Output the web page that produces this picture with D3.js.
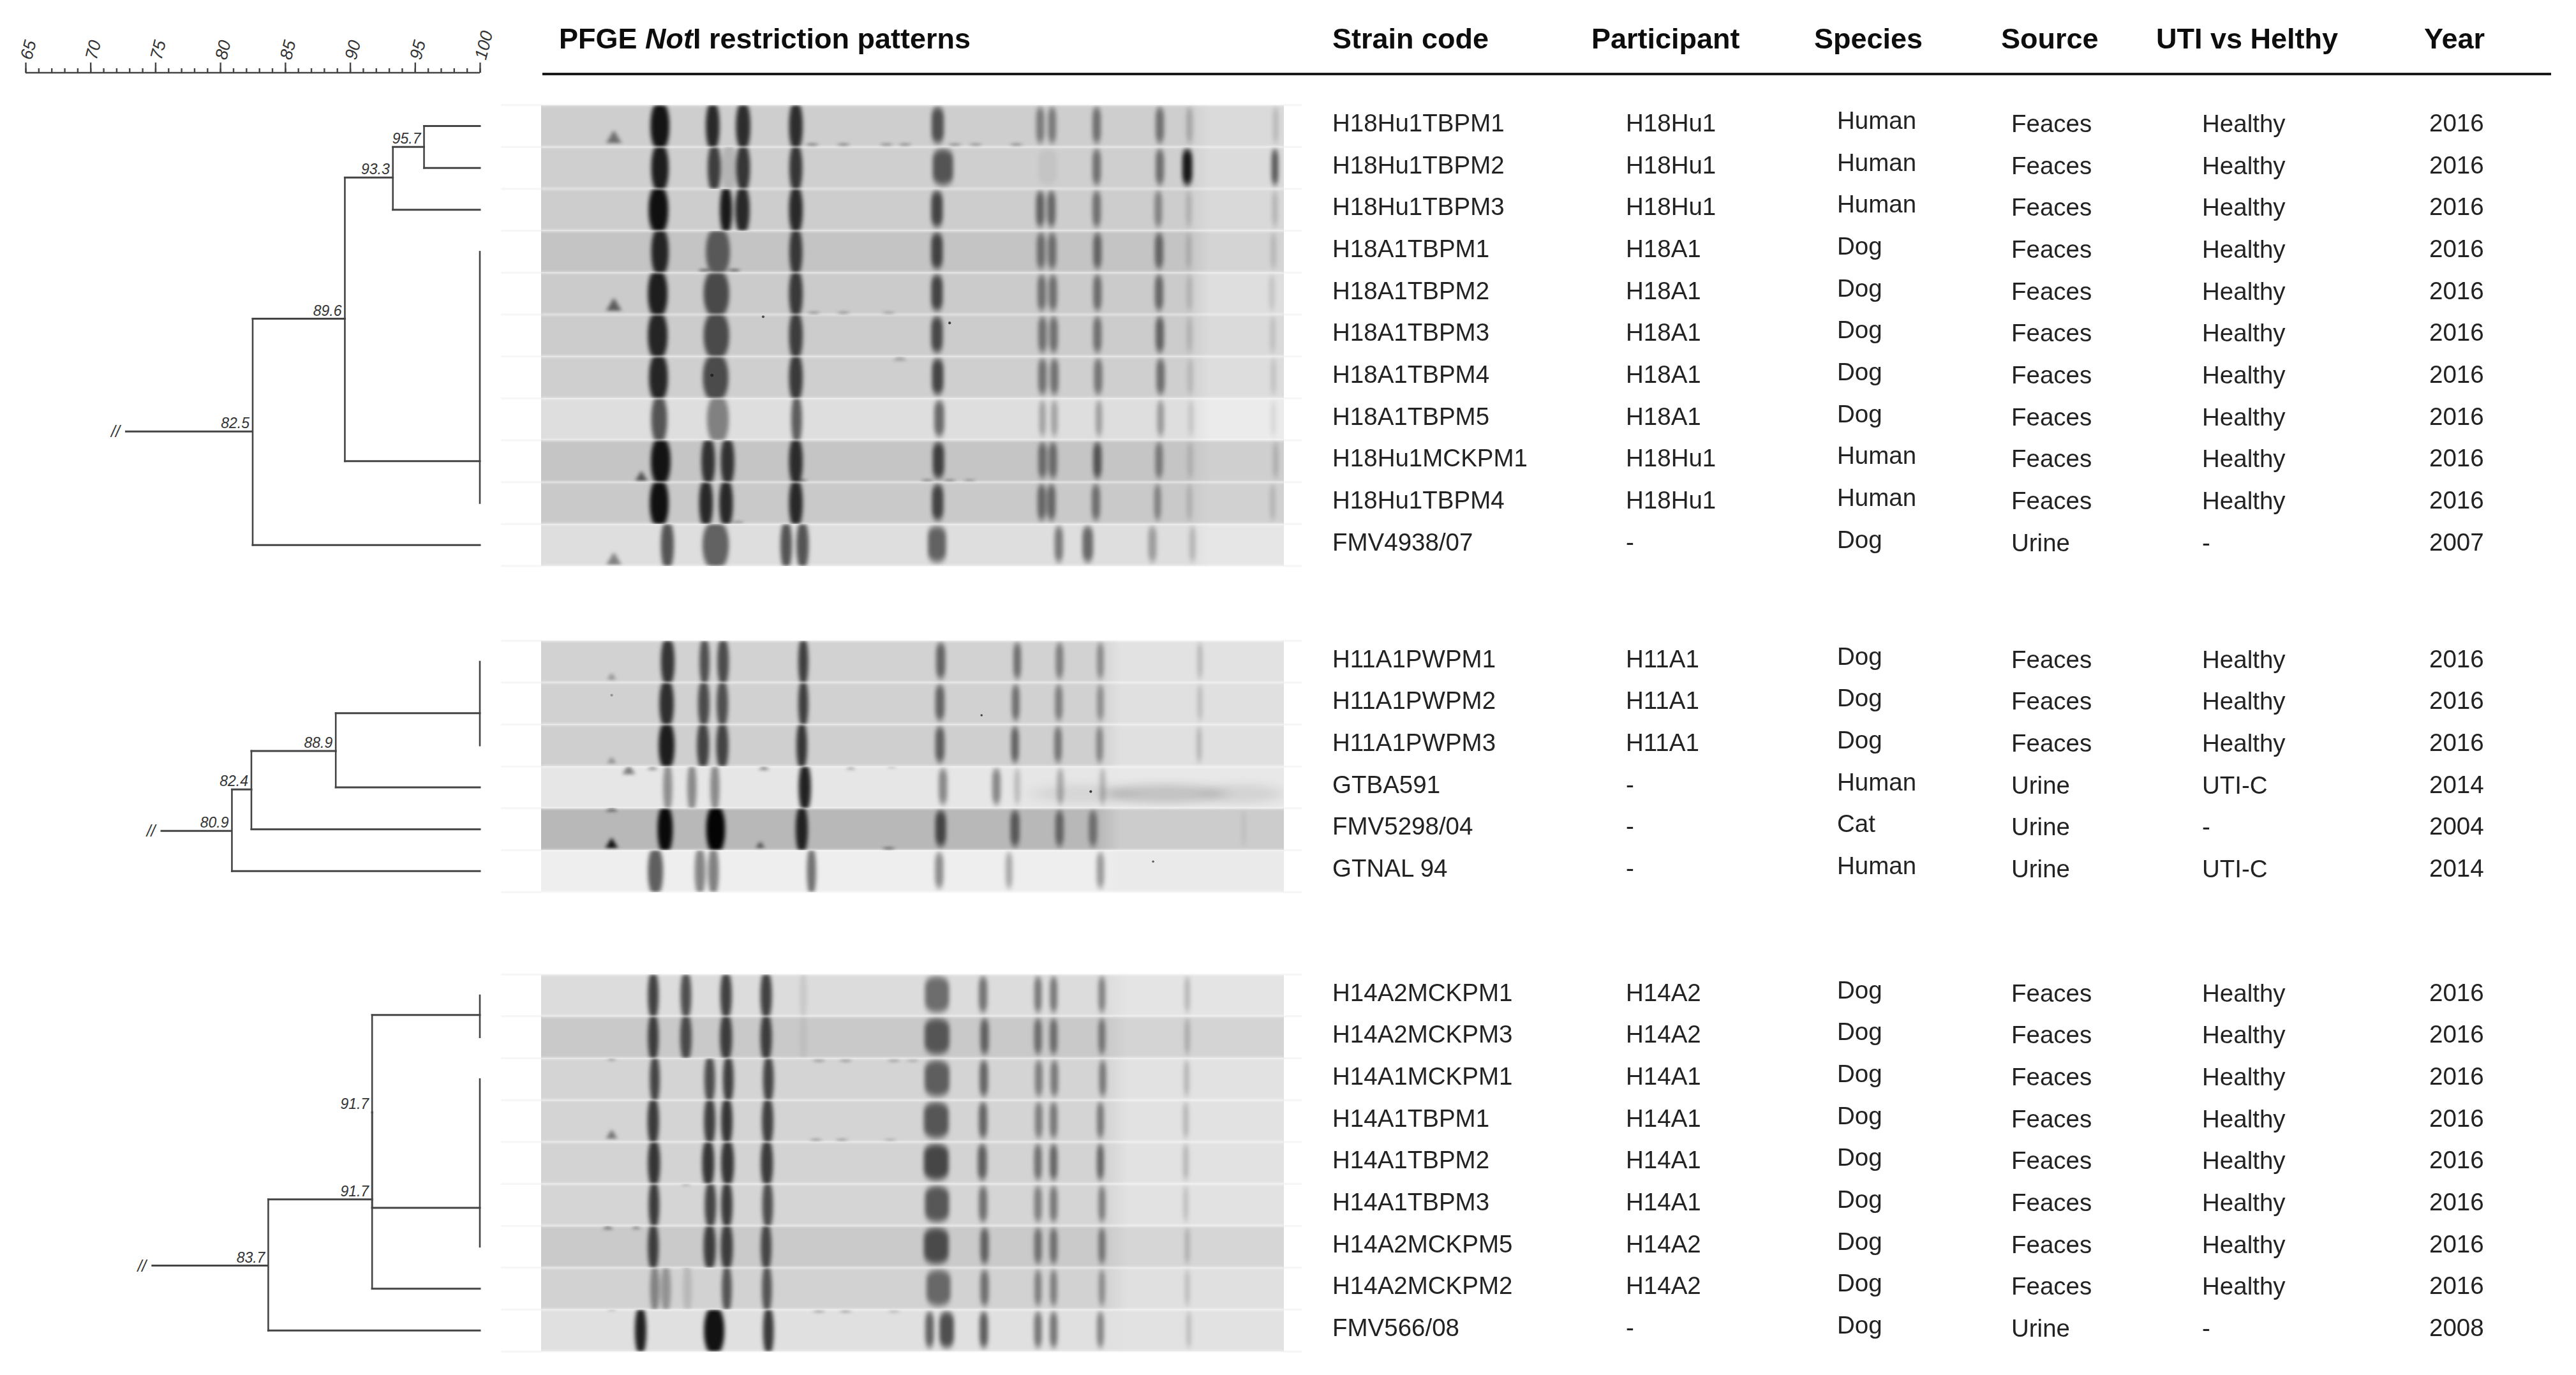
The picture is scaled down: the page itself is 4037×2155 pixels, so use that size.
<!DOCTYPE html>
<html><head><meta charset="utf-8">
<script src="https://cdn.jsdelivr.net/npm/d3@7"></script>
<style>html,body{margin:0;padding:0;background:#fff}svg{display:block}</style>
</head><body><div id="chart"></div>
<script>
// ---- table text ----
const strainsA=["H18Hu1TBPM1","H18Hu1TBPM2","H18Hu1TBPM3","H18A1TBPM1","H18A1TBPM2","H18A1TBPM3","H18A1TBPM4","H18A1TBPM5","H18Hu1MCKPM1","H18Hu1TBPM4","FMV4938/07"];
const participantsA=["H18Hu1","H18Hu1","H18Hu1","H18A1","H18A1","H18A1","H18A1","H18A1","H18Hu1","H18Hu1","-"];
const speciesA=["Human","Human","Human","Dog","Dog","Dog","Dog","Dog","Human","Human","Dog"];
const sourcesA=["Feaces","Feaces","Feaces","Feaces","Feaces","Feaces","Feaces","Feaces","Feaces","Feaces","Urine"];
const statusA=["Healthy","Healthy","Healthy","Healthy","Healthy","Healthy","Healthy","Healthy","Healthy","Healthy","-"];
const yearsA=[2016,2016,2016,2016,2016,2016,2016,2016,2016,2016,2007];

const strainsB=["H11A1PWPM1","H11A1PWPM2","H11A1PWPM3","GTBA591","FMV5298/04","GTNAL 94"];
const participantsB=["H11A1","H11A1","H11A1","-","-","-"];
const speciesB=["Dog","Dog","Dog","Human","Cat","Human"];
const sourcesB=["Feaces","Feaces","Feaces","Urine","Urine","Urine"];
const statusB=["Healthy","Healthy","Healthy","UTI-C","-","UTI-C"];
const yearsB=[2016,2016,2016,2014,2004,2014];

const strainsC=["H14A2MCKPM1","H14A2MCKPM3","H14A1MCKPM1","H14A1TBPM1","H14A1TBPM2","H14A1TBPM3","H14A2MCKPM5","H14A2MCKPM2","FMV566/08"];
const participantsC=["H14A2","H14A2","H14A1","H14A1","H14A1","H14A1","H14A2","H14A2","-"];
const speciesC=["Dog","Dog","Dog","Dog","Dog","Dog","Dog","Dog","Dog"];
const sourcesC=["Feaces","Feaces","Feaces","Feaces","Feaces","Feaces","Feaces","Feaces","Urine"];
const statusC=["Healthy","Healthy","Healthy","Healthy","Healthy","Healthy","Healthy","Healthy","-"];
const yearsC=[2016,2016,2016,2016,2016,2016,2016,2016,2008];

const headers=["Strain code","Participant","Species","Source","UTI vs Helthy","Year"];
const majorTicks=[65,70,75,80,85,90,95,100];
const minorTicks=d3.range(65,101);

// ---- dendrograms: similarity (%) and row position ----
const treeA={sim:82.5,row:7.29,label:"82.5",start:72.67,children:[
  {sim:89.6,row:4.6,label:"89.6",children:[
    {sim:93.3,row:1.23,label:"93.3",children:[
      {sim:95.7,row:0.5,label:"95.7",children:[{sim:100,row:0},{sim:100,row:1}]},
      {sim:100,row:2}]},
    {sim:100,row:8,span:[3,9]}]},
  {sim:100,row:10}]};
const treeB={sim:80.9,row:4.04,label:"80.9",start:75.4,children:[
  {sim:82.4,row:3.05,label:"82.4",children:[
    {sim:88.9,row:2.13,label:"88.9",children:[
      {sim:100,row:1.23,span:[0,2]},
      {sim:100,row:3}]},
    {sim:100,row:4}]},
  {sim:100,row:5}]};
const treeC={sim:83.7,row:6.45,label:"83.7",start:74.7,children:[
  {sim:91.7,row:4.87,label:"91.7",children:[
    {sim:91.7,row:2.79,label:"91.7",children:[
      {sim:100,row:0.47,span:[0,1]},
      {sim:100,row:5.07,span:[2,6]}]},
    {sim:100,row:7}]},
  {sim:100,row:8}]};

// ---- gel lanes: band = [position %, width %, density] ----
const gelA=[
 [[16.0,2.2,.9],[23.1,1.5,.8],[27.2,1.6,.78],[34.3,1.5,.78],[53.4,1.3,.68],[67.2,.75,.45],[68.8,.75,.45],[74.8,.8,.5],[83.3,.8,.5],[87.3,.55,.22],[98.9,.45,.16]],
 [[16.0,2.0,.86],[23.3,1.4,.7],[25.3,1.7,.13],[27.2,1.5,.74],[34.3,1.4,.74],[54.1,2.4,.66],[68.2,2.2,.06],[74.8,.8,.5],[83.3,.8,.52],[87.0,1.0,.98],[98.8,.6,.65]],
 [[15.8,2.3,.92],[24.9,1.3,.88],[27.1,1.6,.8],[34.3,1.5,.8],[53.3,1.2,.74],[67.2,.8,.58],[68.7,.8,.55],[74.8,.8,.5],[83.1,.7,.4],[87.2,.45,.16],[98.8,.45,.18]],
 [[16.0,2.0,.82],[23.8,2.9,.55],[34.3,1.4,.72],[53.3,1.2,.74],[67.3,.8,.5],[68.8,.8,.5],[74.9,.8,.55],[83.2,.8,.55],[87.2,.45,.15],[98.6,.45,.15]],
 [[15.7,2.3,.85],[23.6,3.1,.64],[34.3,1.5,.72],[53.3,1.2,.74],[67.4,.8,.5],[68.9,.8,.5],[74.9,.8,.52],[83.2,.8,.55],[87.3,.45,.15],[98.4,.45,.13]],
 [[15.7,2.3,.82],[23.6,3.1,.64],[34.3,1.5,.7],[53.3,1.2,.72],[67.5,.8,.5],[69.0,.8,.5],[74.9,.8,.5],[83.3,.8,.58],[87.3,.45,.15],[98.5,.45,.13]],
 [[15.8,2.2,.82],[23.5,3.1,.64],[34.3,1.5,.72],[53.4,1.2,.74],[67.5,.8,.5],[69.1,.8,.5],[75.0,.8,.48],[83.4,.8,.52],[87.4,.45,.14],[98.6,.45,.13]],
 [[15.9,1.8,.62],[23.8,2.6,.42],[34.4,1.1,.58],[53.6,1.0,.58],[67.5,.55,.3],[69.1,.55,.3],[75.1,.55,.32],[83.4,.6,.34],[87.5,.4,.13],[98.6,.35,.09]],
 [[16.1,2.3,.9],[22.5,1.5,.75],[25.1,1.5,.75],[34.3,1.5,.78],[53.5,1.2,.76],[67.5,.8,.52],[68.9,.8,.52],[74.9,.8,.65],[83.2,.7,.44],[87.4,.45,.14],[98.9,.5,.16]],
 [[15.9,2.2,.92],[22.2,1.5,.8],[24.9,1.5,.8],[34.3,1.5,.8],[53.4,1.2,.74],[67.4,.8,.55],[68.7,.8,.55],[74.7,.8,.5],[83.0,.6,.4],[87.3,.45,.15],[98.5,.45,.15]],
 [[17.0,1.4,.62],[23.5,3.2,.56],[33.0,1.2,.62],[35.2,1.3,.62],[53.3,2.1,.62],[69.7,.8,.5],[73.6,1.1,.58],[82.3,.8,.32],[87.7,.55,.2]]
];
const gelB=[
 [[17.05,1.5,.75],[22.0,1.0,.62],[24.5,1.2,.64],[35.3,1.0,.7],[53.8,.9,.58],[64.1,.7,.52],[69.8,.7,.44],[75.3,.6,.38],[88.7,.4,.2]],
 [[16.9,1.6,.78],[21.9,1.2,.64],[24.4,1.2,.62],[35.3,1.0,.7],[53.7,.9,.58],[63.9,.7,.52],[69.7,.7,.44],[75.3,.6,.36],[88.7,.4,.17]],
 [[16.9,1.8,.86],[21.8,1.3,.68],[24.4,1.3,.68],[35.1,1.1,.74],[53.7,.9,.6],[63.8,.7,.58],[69.6,.7,.48],[75.2,.6,.4],[88.6,.4,.2]],
 [[17.05,.9,.38],[20.3,.9,.4],[23.4,.9,.4],[35.5,1.3,.85],[54.1,.8,.45],[61.3,.8,.45],[64.1,.5,.2],[69.9,.6,.28],[75.6,.5,.22]],
 [[16.7,1.7,.95],[23.5,2.2,.98],[35.1,1.3,.82],[53.8,1.1,.7],[63.8,.9,.58],[69.8,.8,.52],[74.3,.8,.45],[94.6,.3,.07]],
 [[15.4,1.7,.6],[21.4,1.1,.44],[23.2,1.1,.46],[36.4,.9,.52],[53.6,.8,.45],[63.0,.6,.32],[75.3,.7,.38]]
];
const gelC=[
 [[15.1,1.1,.7],[19.5,1.1,.64],[24.9,1.2,.7],[30.3,1.2,.7],[35.3,.6,.09],[53.3,2.9,.56],[59.5,.8,.52],[66.9,.65,.5],[69.0,.65,.5],[75.5,.6,.45],[87.0,.4,.22]],
 [[15.1,1.1,.7],[19.5,1.2,.64],[24.9,1.3,.7],[30.3,1.2,.7],[35.3,.6,.06],[53.3,3.0,.64],[59.7,.8,.58],[66.9,.7,.52],[69.0,.7,.52],[75.5,.6,.48],[87.0,.4,.22]],
 [[15.3,1.0,.68],[22.7,1.1,.64],[25.2,1.1,.7],[30.6,1.1,.68],[53.3,3.0,.62],[59.6,.8,.58],[67.0,.7,.45],[69.1,.7,.48],[75.6,.6,.48],[86.9,.4,.22]],
 [[15.1,1.2,.72],[22.7,1.2,.7],[25.0,1.2,.75],[30.5,1.2,.7],[53.2,3.0,.66],[59.5,.8,.58],[67.0,.7,.45],[69.0,.7,.48],[75.3,.6,.48],[86.8,.4,.22]],
 [[15.2,1.3,.75],[22.5,1.3,.75],[25.1,1.4,.75],[30.4,1.3,.72],[53.2,3.0,.74],[59.4,.9,.6],[66.9,.7,.52],[69.0,.7,.58],[75.3,.6,.58],[86.8,.4,.22]],
 [[15.2,1.1,.72],[22.8,1.2,.68],[25.0,1.2,.72],[30.5,1.1,.64],[53.3,2.9,.66],[59.5,.8,.52],[66.9,.7,.45],[69.0,.7,.48],[75.5,.6,.45],[86.8,.35,.17]],
 [[15.1,1.1,.7],[22.7,1.3,.7],[25.0,1.3,.7],[30.3,1.1,.66],[53.2,3.0,.7],[59.7,.8,.58],[66.9,.7,.5],[69.0,.7,.5],[75.5,.6,.48],[87.0,.35,.2]],
 [[15.3,.9,.38],[16.8,1.0,.3],[19.7,.9,.12],[25.0,1.0,.6],[30.4,1.0,.6],[53.5,2.9,.56],[59.7,.8,.52],[66.9,.6,.45],[69.0,.6,.45],[75.5,.5,.38],[87.0,.35,.17]],
 [[13.4,1.2,.85],[23.3,2.4,.92],[30.6,1.1,.74],[52.3,.8,.62],[54.6,1.6,.72],[59.6,.8,.64],[66.9,.7,.52],[69.0,.7,.52],[75.3,.6,.45],[87.2,.35,.18]]
];
// lane grey level: before and after the step in background
const toneA=[[206,218],[207,219],[205,217],[196,212],[203,222],[204,218],[207,221],[222,235],[197,207],[201,209],[222,230]];
const toneB=[[210,226],[209,224],[207,224],[230,232],[184,204],[238,234]];
const toneC=[[220,228],[201,212],[212,226],[212,226],[211,226],[213,226],[202,214],[210,224],[224,226]];
// where the background steps, in gel position %
const stepA=87, stepB=75, stepC=76;
// streaks across a lane: [lane, from %, to %, density]
const smearsB=[[3,66,80,.07],[3,76,92,.16],[3,89,100,.09]];
// spots on gels: [lane, position %, lane fraction, size, density]
const spotsA=[[0,9.8,.88,1.1,.36],[4,9.8,.88,1.1,.42],[10,9.8,.95,1.1,.32],[8,13.5,.97,.9,.45],[1,25.3,.02,.7,.18],[6,48.3,.1,.9,.16],
 [0,36.5,.95,.5,.3],[0,40.7,.95,.5,.28],[0,46.5,.95,.5,.25],[0,49,.95,.5,.25],[0,55.7,.95,.5,.25],[0,58.5,.95,.5,.22],[0,64,.95,.5,.25],
 [4,36.7,.97,.5,.25],[4,40.7,.97,.5,.25],[4,46.8,.97,.5,.2],[8,35,.97,.5,.35],[8,52,.97,.5,.28],[8,55,.97,.5,.28],[8,57.7,.97,.5,.22],
 [3,22,.95,.5,.4],[3,26,.95,.5,.4],[5,29.9,.05,.3,.7],[5,55,.2,.3,.7],[6,23,.45,.35,.55],[9,26.5,.97,.5,.25]];
const spotsB=[[0,9.5,.95,.6,.25],[1,9.5,.3,.3,.3],[2,9.5,.95,.6,.25],[3,11.8,.18,.9,.35],[3,15,.1,.7,.25],[3,30,.1,.7,.3],[3,41.7,.1,.6,.2],[3,47.2,.05,.6,.2],
 [4,9.5,.08,.8,.35],[4,9.5,.94,.9,.7],[4,29.5,.97,.6,.45],[4,46.8,.97,.5,.4],[1,59.3,.78,.25,.7],[3,74,.6,.3,.75],[5,82.4,.27,.25,.6]];
const spotsC=[[2,9.5,.07,.6,.25],[3,9.5,.92,.8,.35],[6,9,.1,.7,.3],[6,12.8,.1,.6,.25],[7,19.5,.02,.6,.25],[5,19.5,.05,.6,.25],
 [2,37.4,.05,.5,.22],[2,41,.05,.5,.22],[2,47.5,.05,.5,.2],[2,50,.05,.5,.16],[3,37,.96,.5,.22],[3,40.5,.96,.5,.22],[3,47,.96,.5,.16],[8,9.5,.04,.6,.25],[8,37.4,.03,.5,.22],[8,41,.03,.5,.22],[8,47.5,.03,.5,.16]];

// ---- layout ----
const W=4037,H=2155;
const svg=d3.select("#chart").append("svg").attr("width",W).attr("height",H).attr("viewBox",[0,0,W,H]);
const FONT="'Liberation Sans',Arial,sans-serif";
const defs=svg.append("defs");
defs.append("filter").attr("id","blurBand").attr("x","-100%").attr("y","-20%").attr("width","300%").attr("height","140%")
  .append("feGaussianBlur").attr("stdDeviation","3.2 5.5");
defs.append("filter").attr("id","blurSpot").attr("x","-100%").attr("y","-100%").attr("width","300%").attr("height","300%")
  .append("feGaussianBlur").attr("stdDeviation","3.2 2.4");
defs.append("filter").attr("id","blurSoft").attr("x","-50%").attr("y","-100%").attr("width","200%").attr("height","300%")
  .append("feGaussianBlur").attr("stdDeviation","14 7");
defs.append("filter").attr("id","blurLine").attr("x","-5%").attr("y","-300%").attr("width","110%").attr("height","700%")
  .append("feGaussianBlur").attr("stdDeviation","1.6");
defs.append("filter").attr("id","blurText").append("feGaussianBlur").attr("stdDeviation","0.6");

const x=d3.scaleLinear().domain([65,100]).range([40,752]);
const gx=d3.scaleLinear().domain([0,100]).range([848,2012]);
const bandW=d3.scaleLinear().domain([0,100]).range([0,1164]);
const PITCH=65.67;
const panels=[
 {key:"A",top:197.5,strains:strainsA,part:participantsA,spec:speciesA,src:sourcesA,stat:statusA,year:yearsA,tree:treeA,gel:gelA,tone:toneA,step:stepA,spots:spotsA,smears:[]},
 {key:"B",top:1037,strains:strainsB,part:participantsB,spec:speciesB,src:sourcesB,stat:statusB,year:yearsB,tree:treeB,gel:gelB,tone:toneB,step:stepB,spots:spotsB,smears:smearsB},
 {key:"C",top:1560,strains:strainsC,part:participantsC,spec:speciesC,src:sourcesC,stat:statusC,year:yearsC,tree:treeC,gel:gelC,tone:toneC,step:stepC,spots:spotsC,smears:[]}
];
panels.forEach(p=>{p.y=d3.scaleLinear().domain([0,p.strains.length-1]).range([p.top,p.top+PITCH*(p.strains.length-1)]);});

// ---- similarity axis ----
const axisG=svg.append("g").attr("transform","translate(0,114)").attr("font-family",FONT);
const minor=d3.axisTop(x).tickValues(minorTicks).tickSize(7).tickFormat("");
axisG.append("g").call(minor).call(g=>{g.selectAll("line,path").attr("stroke","#444").attr("stroke-width",2.4);g.select(".domain").attr("d",`M${x(65)},0H${x(100)}`);});
const major=d3.axisTop(x).tickValues(majorTicks).tickSize(16);
axisG.append("g").call(major).call(g=>{
  g.select(".domain").remove();
  g.selectAll("line").attr("stroke","#444").attr("stroke-width",2.4);
  g.selectAll("text").attr("font-family",FONT).attr("font-size",27).attr("font-style","italic").attr("fill","#333")
   .attr("text-anchor","start").attr("dy",0).attr("x",0).attr("y",0).attr("transform","translate(9,-19) rotate(-76)");
});

// ---- header ----
const head=svg.append("g").attr("font-family",FONT).attr("font-weight",700).attr("font-size",45).attr("fill","#111").attr("filter","url(#blurText)");
const title=head.append("text").attr("x",876).attr("y",76);
title.append("tspan").text("PFGE ");
title.append("tspan").attr("font-style","italic").text("Not");
title.append("tspan").text("I restriction patterns");
const headerX=[2088,2494,2843,3136,3379,3799];
head.selectAll("text.h").data(headers).join("text").attr("class","h").attr("x",(d,i)=>headerX[i]).attr("y",76).text(d=>d);
svg.append("line").attr("x1",850).attr("x2",3998).attr("y1",116).attr("y2",116).attr("stroke","#1a1a1a").attr("stroke-width",4);

// ---- gels ----
panels.forEach(p=>{
  const g=svg.append("g").attr("class","gel"+p.key);
  const laneH=PITCH;
  g.selectAll("line.frame").data(d3.range(p.strains.length+1)).join("line").attr("class","frame")
    .attr("x1",785).attr("x2",2040).attr("y1",i=>p.y(0)-laneH/2+i*laneH).attr("y2",i=>p.y(0)-laneH/2+i*laneH)
    .attr("stroke","#f6f6f6").attr("stroke-width",3);
  p.gel.forEach((bands,i)=>{
    const yc=p.y(i),top=yc-laneH/2;
    const gid=`grad${p.key}${i}`,cid=`clip${p.key}${i}`;
    const lg=defs.append("linearGradient").attr("id",gid);
    const grey=v=>d3.rgb(v,v,v);
    [[0,p.tone[i][0]],[p.step,p.tone[i][0]],[p.step+3,p.tone[i][1]],[100,p.tone[i][1]]].forEach(s=>
      lg.append("stop").attr("offset",s[0]+"%").attr("stop-color",grey(s[1])));
    defs.append("clipPath").attr("id",cid).append("rect").attr("x",gx(0)).attr("y",top).attr("width",gx(100)-gx(0)).attr("height",laneH);
    const lane=g.append("g").attr("clip-path",`url(#${cid})`);
    lane.append("rect").attr("x",gx(0)).attr("y",top).attr("width",gx(100)-gx(0)).attr("height",laneH).attr("fill",`url(#${gid})`);
    p.smears.filter(s=>s[0]===i).forEach(s=>{
      lane.append("ellipse").attr("cx",gx((s[1]+s[2])/2)).attr("cy",yc+10).attr("rx",bandW(s[2]-s[1])/2).attr("ry",15)
        .attr("fill","#000").attr("fill-opacity",s[3]).attr("filter","url(#blurSoft)");
    });
    // large fragments (left of the gel) run the whole lane; small ones stop short of its edges
    const isLarge=d=>d[0]<45;
    const bw=d=>bandW(d[1])+4;
    const bg=lane.append("g").attr("filter","url(#blurBand)");
    bg.selectAll("rect.band").data(bands).join("rect").attr("class","band")
      .attr("x",d=>gx(d[0])-bw(d)/2).attr("width",bw)
      .attr("y",d=>isLarge(d)?top-8:yc-30).attr("height",d=>isLarge(d)?laneH+16:57)
      .attr("rx",d=>bw(d)/2).attr("ry",d=>isLarge(d)?38:14)
      .attr("fill","#000").attr("fill-opacity",d=>isLarge(d)?d[2]:d[2]*.9);
    const sp=lane.append("g").attr("filter","url(#blurSpot)");
    const here=p.spots.filter(s=>s[0]===i);
    // triangles: diffuse well marks; flat dashes: tiny bleed at the lane edge; dots: dust
    sp.selectAll("path.tri").data(here.filter(d=>d[3]>.55)).join("path").attr("class","tri")
      .attr("d",d=>d3.symbol(d3.symbolTriangle,d[3]*d[3]*200)())
      .attr("transform",d=>`translate(${gx(d[1])},${top+d[2]*laneH-5})`)
      .attr("fill","#000").attr("fill-opacity",d=>d[4]*1.3);
    sp.selectAll("ellipse.dash").data(here.filter(d=>d[3]===.5)).join("ellipse").attr("class","dash")
      .attr("cx",d=>gx(d[1])).attr("cy",d=>top+d[2]*laneH).attr("rx",9).attr("ry",2.4)
      .attr("fill","#000").attr("fill-opacity",d=>d[4]*1.3);
    lane.append("g").attr("filter","url(#blurText)").selectAll("circle.dot").data(here.filter(d=>d[3]<.5)).join("circle").attr("class","dot")
      .attr("cx",d=>gx(d[1])).attr("cy",d=>top+d[2]*laneH).attr("r",d=>d[3]*7)
      .attr("fill","#000").attr("fill-opacity",d=>d[4]);
  });
  g.selectAll("rect.seam").data(d3.range(p.strains.length+1)).join("rect").attr("class","seam")
    .attr("x",gx(0)).attr("width",gx(100)-gx(0)).attr("y",i=>p.y(0)-laneH/2+i*laneH-2).attr("height",4)
    .attr("fill","#fff").attr("fill-opacity",.42).attr("filter","url(#blurLine)");
});

// ---- dendrograms ----
function drawTree(g,node,y){
  const seg=(x1,y1,x2,y2,w)=>g.append("line").attr("x1",x1).attr("x2",x2).attr("y1",y1).attr("y2",y2).attr("stroke","#444").attr("stroke-width",w||3).attr("stroke-linecap","square");
  if(node.children){
    const rows=node.children.map(c=>c.row);
    seg(x(node.sim),y(d3.min(rows)),x(node.sim),y(d3.max(rows)),2.6);
    node.children.forEach(c=>{
      seg(x(node.sim),y(c.row),x(c.sim),y(c.row));
      drawTree(g,c,y);
    });
    g.append("text").attr("x",x(node.sim)-5).attr("y",y(node.row)-5).attr("text-anchor","end")
      .attr("font-size",23).attr("font-style","italic").attr("fill","#333").text(node.label);
  }
  if(node.span) seg(x(100),y(node.span[0]),x(100),y(node.span[1]),2.6);
}
panels.forEach(p=>{
  const g=svg.append("g").attr("class","tree"+p.key).attr("font-family",FONT);
  const t=p.tree;
  g.append("line").attr("x1",x(t.start)).attr("x2",x(t.sim)).attr("y1",p.y(t.row)).attr("y2",p.y(t.row)).attr("stroke","#444").attr("stroke-width",3);
  g.append("text").attr("x",x(t.start)-8).attr("y",p.y(t.row)+9).attr("text-anchor","end").attr("font-size",25).attr("font-style","italic").attr("fill","#333").text("//");
  drawTree(g,t,p.y);
});

// ---- table ----
const cols=[
 {k:"strains",x:2088,dy:-5},{k:"part",x:2548,dy:-5},{k:"spec",x:2879,dy:-9},
 {k:"src",x:3152,dy:-4},{k:"stat",x:3451,dy:-4},{k:"year",x:3807,dy:-5}
];
panels.forEach(p=>{
  const g=svg.append("g").attr("font-family",FONT).attr("font-size",38.5).attr("fill","#222").attr("filter","url(#blurText)");
  cols.forEach(c=>{
    g.selectAll(`text.${c.k}`).data(p[c.k]).join("text").attr("class",c.k)
      .attr("x",c.x).attr("y",(d,i)=>p.y(i)+c.dy+13.5).text(d=>d);
  });
});
</script></body></html>
